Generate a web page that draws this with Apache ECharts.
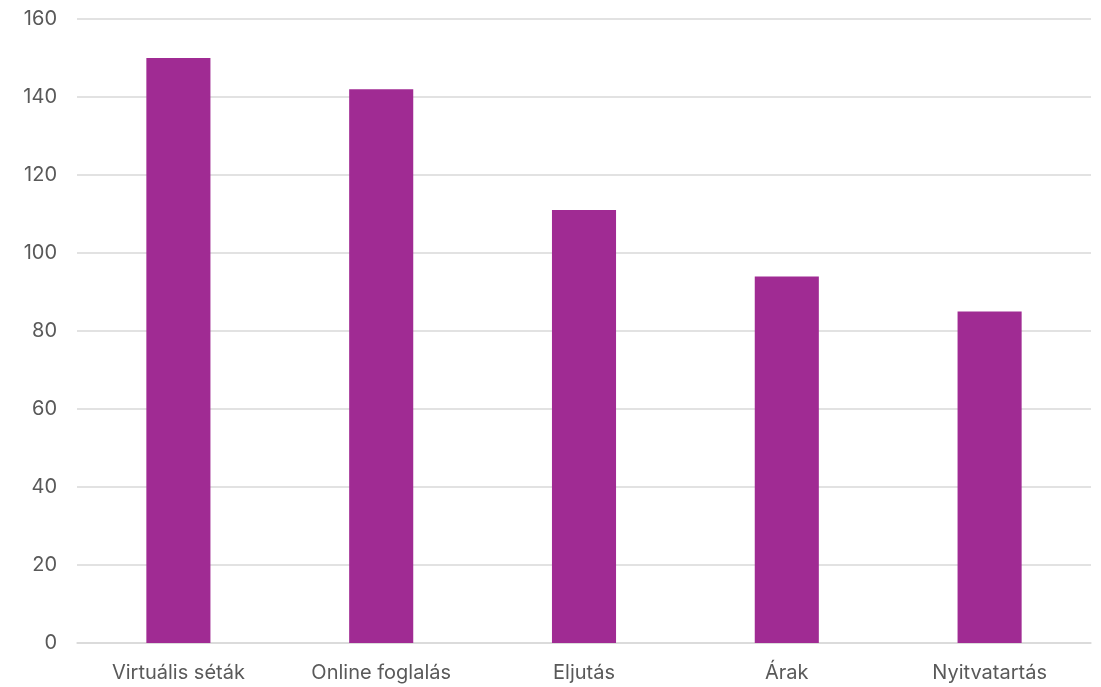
<!DOCTYPE html>
<html>
<head>
<meta charset="utf-8">
<script src="https://cdn.jsdelivr.net/npm/echarts@6/dist/echarts.min.js"></script>
<style>
  html, body { margin: 0; padding: 0; background: #fff; }
  #chart { width: 1101px; height: 687px; }
</style>
</head>
<body>
<div id="chart"></div>
<script>
// Categories and counts for the bar chart
const categories = ['Virtuális séták', 'Online foglalás', 'Eljutás', 'Árak', 'Nyitvatartás'];
const counts = [150, 142, 111, 94, 85];
const yTicks = { min: 0, max: 160, interval: 20 };

const chart = echarts.init(document.getElementById('chart'));
chart.setOption({
  animation: false,
  grid: { left: 77, right: 10, top: 19, bottom: 44, containLabel: false },
  xAxis: {
    type: 'category',
    data: categories,
    axisLine: { lineStyle: { color: '#D9D9D9', width: 1.5 } },
    axisTick: { show: false },
    axisLabel: { color: '#595959', fontSize: 20, fontFamily: 'Inter', margin: 20 }
  },
  yAxis: {
    type: 'value',
    min: yTicks.min, max: yTicks.max, interval: yTicks.interval,
    axisLine: { show: false },
    axisTick: { show: false },
    splitLine: { lineStyle: { color: '#D9D9D9', width: 1.5 } },
    axisLabel: { color: '#595959', fontSize: 20, fontFamily: 'Inter', margin: 20 }
  },
  series: [{
    type: 'bar',
    data: counts,
    barWidth: '31.6%',
    itemStyle: { color: '#A02B93' }
  }]
});
</script>
</body>
</html>
